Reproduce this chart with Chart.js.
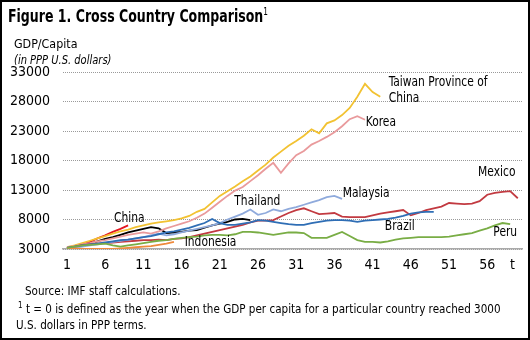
<!DOCTYPE html>
<html>
<head>
<meta charset="utf-8">
<script src="https://cdn.jsdelivr.net/npm/chart.js@4/dist/chart.umd.min.js"></script>
<style>
  html, body { margin: 0; padding: 0; background: #fff; }
  #wrap { position: relative; width: 530px; height: 340px; box-sizing: border-box; border: 2px solid #000; overflow: hidden;
          font-family: 'Liberation Sans Narrow', 'DejaVu Sans Condensed', 'Roboto Condensed', sans-serif; color: #000; }
  canvas { position: absolute; left: -2px; top: -2px; }
  .t { position: absolute; white-space: nowrap; transform-origin: 0 50%; }
  #title { left: 6px; top: 4px; font-size: 17px; font-weight: bold; transform: scaleX(0.82); }
  #title sup { font-size: 10px; font-weight: normal; vertical-align: 7px; }
  #sub1 { left: 12px; top: 34px; font-size: 13px; transform: scaleX(0.95); }
  #sub2 { left: 12px; top: 50px; font-size: 13px; font-style: italic; transform: scaleX(0.85); }
  #src { left: 23px; top: 281px; font-size: 13px; transform: scaleX(0.89); }
  #fn1 { left: 16px; top: 298px; font-size: 13px; transform: scaleX(0.89); }
  #fn1 sup { font-size: 9px; vertical-align: 5px; }
  #fn2 { left: 14px; top: 315px; font-size: 13px; transform: scaleX(0.89); }
</style>
</head>
<body>
<div id="wrap">
  <canvas id="c" width="530" height="340"></canvas>
  <div class="t" id="title">Figure 1. Cross Country Comparison<sup>1</sup></div>
  <div class="t" id="sub1">GDP/Capita</div>
  <div class="t" id="sub2">(in PPP U.S. dollars)</div>
  <div class="t" id="src">Source: IMF staff calculations.</div>
  <div class="t" id="fn1"><sup>1</sup> t = 0 is defined as the year when the GDP per capita for a particular country reached 3000</div>
  <div class="t" id="fn2">U.S. dollars in PPP terms.</div>
</div>
<script>
// ---- Data (GDP per capita, PPP US$, indexed by t = 1, 2, 3, ...) ----
const xTickValues = [1, 6, 11, 16, 21, 26, 31, 36, 41, 46, 51, 56];
const xAxisLabel = 't';
const yTickValues = [3000, 8000, 13000, 18000, 23000, 28000, 33000];

const taiwan = [3300,3600,4000,4400,4800,5200,5600,6000,6300,6700,7000,7300,7500,7700,7900,8200,8600,9300,9800,10900,12000,12800,13600,14500,15300,16300,17300,18500,19500,20500,21300,22200,23300,22600,24300,24800,25700,26900,28800,31000,29600,28800];
const korea = [3300,3500,3800,4000,4300,4500,4800,5100,5400,5600,5800,5600,6000,6500,6900,7300,7700,8300,9000,10000,11000,12000,12900,13500,14500,15500,16600,17600,15900,17500,18900,19600,20700,21300,22000,22800,23800,25000,25500,24900];
const mexico = [3200,3400,3700,3800,3900,4000,4100,4200,4300,4400,4500,4500,4600,4500,4700,4800,5000,5300,5600,5900,6200,6500,6800,7100,7500,7800,7800,7900,8500,9100,9600,9900,9400,8900,9000,9100,8500,8400,8400,8400,8700,9000,9200,9400,9600,8700,9100,9600,9900,10200,10800,10700,10600,10700,11100,12200,12500,12700,12800,11600];
const china = [3200,3500,3800,4200,4800,5300,5900,6400,7000];
const malaysia = [3200,3300,3400,3600,3800,4000,4200,4400,4600,4800,5000,5300,5600,5300,5500,5800,6100,6400,6700,7000,7400,8000,8500,9000,9700,8800,9100,9700,9400,9800,10100,10500,10900,11300,11800,12000,11500];
const brazil = [3200,3400,3600,3800,3900,4100,4300,4500,4600,4800,5000,5200,5500,5800,6000,6300,6600,7000,7400,8100,7400,7100,7100,7300,7500,7900,7800,7600,7400,7200,7100,7100,7400,7600,7800,7900,7900,7800,7600,7800,7900,8000,8100,8300,8600,9000,9200,9300,9300];
const thailand = [3200,3400,3600,3900,4300,4700,5000,5400,5800,6100,6400,6700,6500,5700,5800,5900,6100,6200,6600,7000,7300,7600,8000,8100,7900];
const peru = [3200,3400,3600,3700,3800,3900,3600,3400,3600,3800,4000,4200,4400,4500,4700,4900,5000,5100,5300,5400,5400,5300,5500,5900,5900,5800,5600,5400,5600,5800,5800,5700,4900,4900,4900,5400,5900,5200,4500,4200,4200,4100,4300,4600,4800,4900,5000,5000,5000,5000,5100,5300,5500,5700,6100,6500,7000,7400,7200];
const indonesia = [3200,3100,3000,3000,3000,3000,3000,3100,3200,3300,3400,3500,3700,3900,4200];

// ---- Series and styling ----
const seriesList = [
  { name: 'Peru',      values: peru,      color: '#79AD45' },
  { name: 'Indonesia', values: indonesia, color: '#EF8A3C' },
  { name: 'Brazil',    values: brazil,    color: '#2F6EB5' },
  { name: 'Malaysia',  values: malaysia,  color: '#8FAADC' },
  { name: 'Mexico',    values: mexico,    color: '#C23A41' },
  { name: 'Korea',     values: korea,     color: '#E99A9C' },
  { name: 'Taiwan',    values: taiwan,    color: '#F2C232' },
  { name: 'Thailand',  values: thailand,  color: '#000000' },
  { name: 'China',     values: china,     color: '#E3161F' }
];

// Text annotations, anchored in data coordinates (t, value)
const annotations = [
  { text: 'Taiwan Province of', t: 43.1, v: 31300 },
  { text: 'China',              t: 43.1, v: 28600 },
  { text: 'Korea',              t: 40.1, v: 24500 },
  { text: 'Mexico',             t: 54.8, v: 16050 },
  { text: 'Malaysia',           t: 37.1, v: 12500 },
  { text: 'Thailand',           t: 22.9, v: 11000 },
  { text: 'China',              t: 7.15, v: 8250 },
  { text: 'Brazil',             t: 42.6, v: 6900 },
  { text: 'Indonesia',          t: 16.4, v: 4200 },
  { text: 'Peru',               t: 56.8, v: 5900 }
];

const FONT = "'Liberation Sans Narrow', 'DejaVu Sans Condensed', 'Roboto Condensed', sans-serif";
const LABEL_SQUEEZE = 0.85;

const annotationPlugin = {
  id: 'annotationPlugin',
  afterDatasetsDraw(chart) {
    const { ctx, scales: { x, y } } = chart;
    annotations.forEach(a => {
      const px = x.getPixelForValue(a.t);
      const py = y.getPixelForValue(a.v);
      ctx.save();
      ctx.translate(px, py);
      ctx.scale(LABEL_SQUEEZE, 1);
      ctx.fillStyle = '#000';
      ctx.font = '14px ' + FONT;
      ctx.textAlign = 'left';
      ctx.textBaseline = 'middle';
      ctx.fillText(a.text, 0, 0);
      ctx.restore();
    });
  }
};

new Chart(document.getElementById('c'), {
  type: 'line',
  data: {
    datasets: seriesList.map(s => ({
      label: s.name,
      data: s.values.map((v, i) => ({ x: i + 1, y: v })),
      borderColor: s.color,
      backgroundColor: s.color,
      borderWidth: 1.8,
      pointRadius: 0,
      tension: 0,
      fill: false
    }))
  },
  options: {
    responsive: false,
    animation: false,
    events: [],
    layout: { padding: { top: 72, right: 8, left: 0, bottom: 0 } },
    plugins: { legend: { display: false }, tooltip: { enabled: false }, title: { display: false } },
    scales: {
      x: {
        type: 'linear',
        min: 0.48,
        max: 60.55,
        afterFit(scale) { scale.height = 91; },
        afterBuildTicks(scale) {
          scale.ticks = xTickValues.map(v => ({ value: v })).concat([{ value: 59.3 }]);
        },
        ticks: {
          autoSkip: false,
          maxRotation: 0,
          padding: 8,
          color: '#000',
          font: { family: FONT, size: 14 },
          callback: (v) => (v > 57 ? xAxisLabel : String(v))
        },
        grid: { display: false, drawTicks: false },
        border: { display: true, color: '#aaaaaa', width: 1.5 }
      },
      y: {
        type: 'linear',
        min: 3000,
        max: 33000,
        afterFit(scale) { scale.width = 63; },
        afterBuildTicks(scale) {
          scale.ticks = yTickValues.map(v => ({ value: v }));
        },
        ticks: {
          padding: 13,
          color: '#000',
          font: { family: FONT, size: 14 },
          callback: (v) => String(v)
        },
        grid: { color: '#9a9a9a', lineWidth: 1, drawTicks: false },
        border: { display: false, dash: [1, 1] }
      }
    }
  },
  plugins: [annotationPlugin]
});
</script>
</body>
</html>
